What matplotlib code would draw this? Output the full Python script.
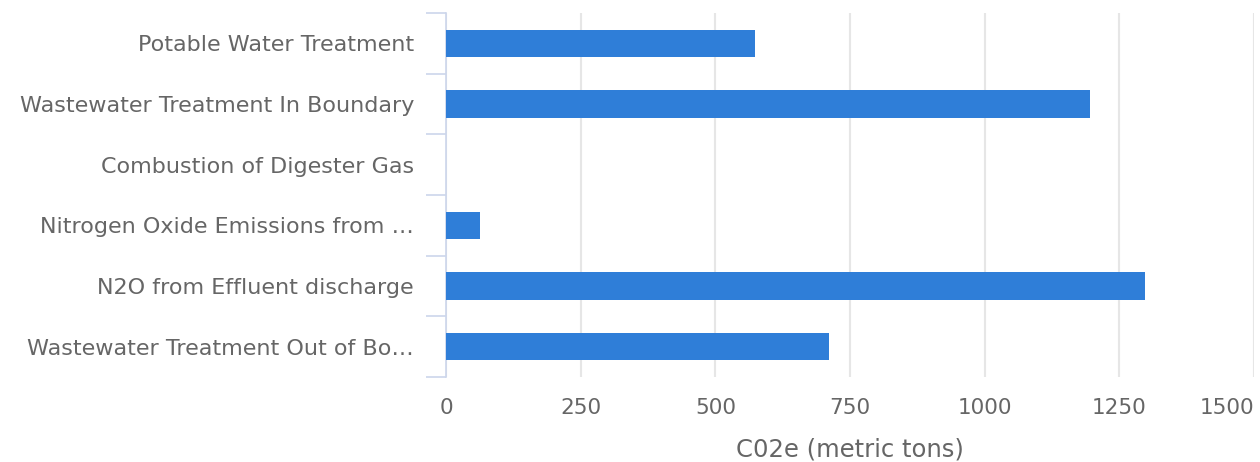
import matplotlib.pyplot as plt

# Emission sources and their CO2e totals
categories = [
    'Potable Water Treatment',
    'Wastewater Treatment In Boundary',
    'Combustion of Digester Gas',
    'Nitrogen Oxide Emissions from \u2026',
    'N2O from Effluent discharge',
    'Wastewater Treatment Out of Bo\u2026',
]
values = [574, 1195, 0, 64, 1297, 711]
x_ticks = [0, 250, 500, 750, 1000, 1250, 1500]

bar_color = '#2f7ed8'
text_color = '#666666'
axis_color = '#ccd6eb'
grid_color = '#e6e6e6'

plt.rcParams['font.family'] = ['DejaVu Sans']

fig = plt.figure(figsize=(12.6, 4.62), dpi=100)
ax = fig.add_axes([446 / 1260, 1 - 377 / 462, 808 / 1260, 364 / 462])

pos = list(range(len(categories)))
ax.barh(pos, values, height=0.45, color=bar_color, linewidth=0, zorder=3)

ax.set_xlim(0, 1500)
ax.set_ylim(len(categories) - 0.5, -0.5)

# Vertical grid lines
ax.set_xticks(x_ticks)
ax.xaxis.grid(True, color=grid_color, linewidth=1.5, zorder=0)
ax.tick_params(axis='x', length=0, pad=15, labelsize=15.5, labelcolor=text_color)
labels = ax.set_xticklabels([str(t) for t in x_ticks])
labels[-1].set_horizontalalignment('right')

# Category labels, with tick marks between categories
ax.set_yticks(pos)
ax.set_yticklabels(categories)
ax.set_yticks([p - 0.5 for p in pos] + [len(categories) - 0.5], minor=True)
ax.tick_params(axis='y', which='major', length=0, pad=23, labelsize=16,
               labelcolor=text_color)
ax.tick_params(axis='y', which='minor', length=14.5, width=1.2, color=axis_color)

for side in ['top', 'right', 'bottom']:
    ax.spines[side].set_visible(False)
ax.spines['left'].set_color(axis_color)
ax.spines['left'].set_linewidth(1.2)

ax.set_xlabel('C02e (metric tons)', color=text_color, fontsize=17.5, labelpad=14)

fig.savefig('out.png', dpi=100)
plt.close(fig)
